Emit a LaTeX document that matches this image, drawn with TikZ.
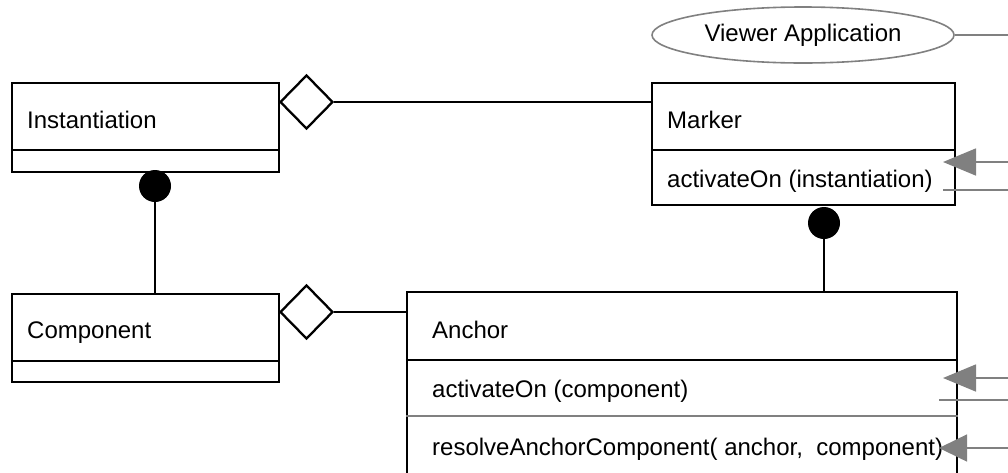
\documentclass[tikz,border=0pt]{standalone}
\usepackage{fontspec}
\setmainfont{Liberation Sans}
\usetikzlibrary{arrows.meta,shapes.geometric}
\definecolor{msggray}{HTML}{808080}
\begin{document}
\begin{tikzpicture}[x=1pt,y=-1pt,
  umlbox/.style={draw, rectangle, line width=2.3pt, inner sep=0pt},
  lbl/.style={anchor=base west, inner sep=0pt, font=\fontsize{24}{28}\selectfont},
  sep/.style={line width=2.3pt},
  graysep/.style={draw=msggray, line width=1.6pt},
  agg/.style={draw, diamond, line width=2.3pt, fill=white, inner sep=0pt,
              minimum width=53pt, minimum height=54pt},
  owner/.style={circle, fill=black, inner sep=0pt, minimum size=32pt},
  link/.style={line width=2.3pt},
  msg/.style={draw=msggray, line width=1.6pt},
  call/.style={msg, -{Triangle[length=33pt,width=27pt,fill=msggray]}},
  actor/.style={draw=msggray, line width=1.6pt, ellipse, inner sep=0pt,
                minimum width=302pt, minimum height=56pt,
                font=\fontsize{24}{28}\selectfont},
]
\clip (0,0) rectangle (1008,472);

% class boxes
\node[umlbox, minimum width=267pt, minimum height=89pt] (inst) at (145.5,127.5) {};
\node[umlbox, minimum width=267pt, minimum height=88pt] (comp) at (145.5,338) {};
\node[umlbox, minimum width=303pt, minimum height=122pt] (marker) at (803.5,144) {};
\node[umlbox, minimum width=550pt, minimum height=216pt] (anchor) at (682,400) {};

% compartment separators
\draw[sep] (inst.west |- 0,150) -- (inst.east |- 0,150);
\draw[sep] (comp.west |- 0,361) -- (comp.east |- 0,361);
\draw[sep] (marker.west |- 0,150) -- (marker.east |- 0,150);
\draw[sep] (anchor.west |- 0,360) -- (anchor.east |- 0,360);
\draw[graysep] (anchor.west |- 0,416) -- (anchor.east |- 0,416);

% class names and operations
\node[lbl] (instName) at (27,128) {Instantiation};
\node[lbl] (compName) at (27,338) {Component};
\node[lbl] (markerName) at (667,128) {Marker};
\node[lbl] (markerOp) at (667,187) {activateOn (instantiation)};
\node[lbl] (anchorName) at (432,338) {Anchor};
\node[lbl] (anchorOp1) at (432,397) {activateOn (component)};
\node[lbl] (anchorOp2) at (432,455) {resolveAnchorComponent( anchor,\ \ component)};

% actor
\node[actor] (viewer) at (803,35) {Viewer Application};

% aggregations
\node[agg] (aggInst) at (306.5,102) {};
\node[agg] (aggComp) at (306.5,312) {};
\draw[link] (aggInst.east) -- (aggInst.east -| marker.west);
\draw[link] (aggComp.east) -- (aggComp.east -| anchor.west);

% compositions
\node[owner] (ownInst) at (155,186) {};
\node[owner] (ownMarker) at (824,223) {};
\draw[link] (ownInst.south) -- (ownInst.south |- comp.north);
\draw[link] (ownMarker.south) -- (ownMarker.south |- anchor.north);

% messages leaving the right edge
\coordinate (vOut) at (1008,37);
\coordinate (mIn) at (1008,162);
\coordinate (mOut) at (1008,190);
\coordinate (aIn1) at (1008,378);
\coordinate (aOut1) at (1008,400);
\coordinate (aIn2) at (1008,448);
\coordinate (mTip) at (943,162);
\coordinate (mTail) at (943,190);
\coordinate (aTip1) at (943,378);
\coordinate (aTail1) at (939,400);
\coordinate (aTip2) at (939,448);

\draw[msg] (viewer.east) -- (viewer.east -| vOut);
\draw[call] (mIn) -- (mTip);
\draw[msg] (mTail) -- (mOut);
\draw[call] (aIn1) -- (aTip1);
\draw[msg] (aTail1) -- (aOut1);
\draw[call, -{Triangle[length=28pt,width=27pt,fill=msggray]}] (aIn2) -- (aTip2);
\end{tikzpicture}
\end{document}
